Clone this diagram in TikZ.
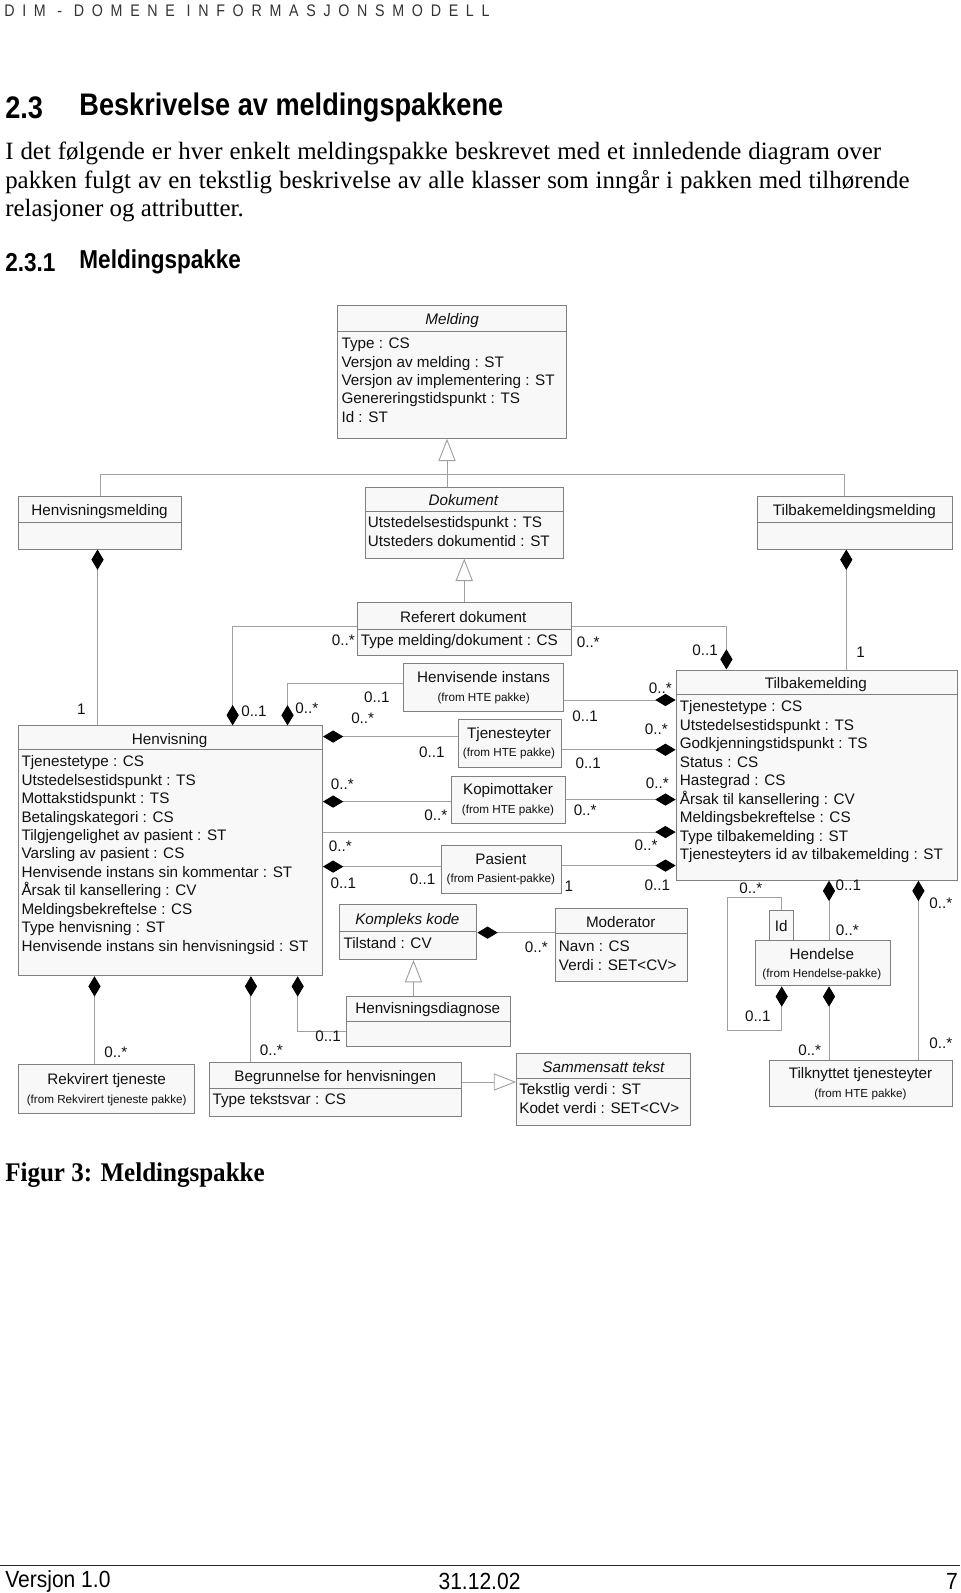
\documentclass[tikz,border=0pt]{standalone}
\usepackage{fontspec}
\setmainfont{Liberation Sans}
\newfontfamily\serifb{Liberation Serif}
\newfontfamily\serifc[FakeStretch=0.93]{Liberation Serif}
\newfontfamily\headf[FakeStretch=0.87]{Liberation Sans}
\newfontfamily\topf[FakeStretch=0.85,LetterSpace=46]{Liberation Sans}
\newfontfamily\footf[FakeStretch=0.9]{Liberation Sans}
\usetikzlibrary{arrows.meta,calc}
\definecolor{boxc}{HTML}{808080}
\definecolor{boxfill}{HTML}{F8F8F8}
\definecolor{linec}{HTML}{A0A0A0}
\definecolor{txt}{HTML}{111111}
\newcommand\dfont{\fontsize{15}{18}\selectfont}
\newcommand\sfont{\fontsize{11.5}{13}\selectfont}
\newcommand\cls[5]{\node[cbox, minimum width=#4pt, minimum height=#5pt] (#1) at (#2,#3) {};}
\newcommand\csep[2]{\draw[sepline] ([yshift=-#2pt]#1.north west) -- ([yshift=-#2pt]#1.north east);}
\begin{document}
\begin{tikzpicture}[x=1pt,y=-1pt,
  cbox/.style={draw=boxc, fill=boxfill, line width=0.9pt, inner sep=0pt, anchor=north west},
  sepline/.style={draw=boxc, line width=0.9pt},
  conn/.style={draw=linec, line width=0.9pt},
  compE/.style={conn, -{Diamond[length=20pt,width=12pt,color=black]}},
  compS/.style={conn, {Diamond[length=20pt,width=12pt,color=black]}-},
  gen/.style={conn, -{Triangle[length=22pt,width=17pt,fill=white]}},
  attr/.style={font=\dfont, text=txt, anchor=west, inner sep=0pt, text height=14pt, text depth=3pt},
  ttl/.style={font=\dfont, text=txt, inner sep=0pt, text height=14pt, text depth=3pt},
  ittl/.style={ttl, font=\dfont\itshape},
  sml/.style={font=\sfont, text=txt, inner sep=0pt, text height=11pt, text depth=1.5pt},
  mult/.style={font=\dfont, text=txt, inner sep=0pt, text height=14pt, text depth=3pt},
  page/.style={inner sep=0pt, anchor=west, text=black}
]
\fill[white] (0,0) rectangle (945,1568);
\path[use as bounding box] (0,0) rectangle (945,1568);

% ---------- page text ----------
\node[page, font=\topf\fontsize{16.5}{18}\selectfont, text=black!80] (hdr) at (4,11) {DIM - DOMENE INFORMASJONSMODELL};
\node[page, font=\headf\bfseries\fontsize{30.7}{34}\selectfont] (h23) at (5,106) {2.3};
\node[page, font=\headf\bfseries\fontsize{30.7}{34}\selectfont] (h23t) at (78,106) {Beskrivelse av meldingspakkene};
\node[page, font=\serifb\fontsize{24.5}{28}\selectfont] (b1) at (5,151) {\makebox[862pt][s]{I det følgende er hver enkelt meldingspakke beskrevet med et innledende diagram over}};
\node[page, font=\serifb\fontsize{24.5}{28}\selectfont] (b2) at (5,179) {\makebox[890pt][s]{pakken fulgt av en tekstlig beskrivelse av alle klasser som inngår i pakken med tilhørende}};
\node[page, font=\serifb\fontsize{24.5}{28}\selectfont] (b3) at (5,207) {relasjoner og attributter.};
\node[page, font=\headf\bfseries\fontsize{25.5}{28}\selectfont] (h231) at (5,258) {2.3.1};
\node[page, font=\headf\bfseries\fontsize{25.5}{28}\selectfont] (h231t) at (78,258) {Meldingspakke};
\node[page, font=\serifc\bfseries\fontsize{26.5}{30}\selectfont] (fig) at (5,1157) {Figur 3: Meldingspakke};
\coordinate (fl) at (0,1541);
\coordinate (fr) at (945,1541);
\draw[line width=1.3pt, black!85] (fl) -- (fr);
\node[page, font=\footf\fontsize{23}{26}\selectfont] (v) at (5,1557) {Versjon 1.0};
\node[inner sep=0pt, font=\footf\fontsize{23}{26}\selectfont] (d) at (472,1557) {31.12.02};
\node[inner sep=0pt, anchor=east, font=\footf\fontsize{23}{26}\selectfont] (pg) at (943,1557) {7};

% ---------- classes ----------
\cls{meld}{332}{300}{225}{131} \csep{meld}{26}
\node[ittl] at (445,314) {Melding};
\foreach \t [count=\i from 0] in {Type : CS, Versjon av melding : ST, Versjon av implementering : ST, Genereringstidspunkt : TS, Id : ST}
  \node[attr] at (336,338+18*\i) {\t};

\cls{hmeld}{18}{488}{160}{52} \csep{hmeld}{26}
\node[ttl] at (98,502) {Henvisningsmelding};

\cls{dok}{359}{479}{195}{70} \csep{dok}{24}
\node[ittl] at (456,492) {Dokument};
\node[attr] at (362,514) {Utstedelsestidspunkt : TS};
\node[attr] at (362,532) {Utsteders dokumentid : ST};

\cls{tmeld}{745}{488}{192}{52} \csep{tmeld}{26}
\node[ttl] at (841,502) {Tilbakemeldingsmelding};

\cls{refdok}{351}{593}{211}{52} \csep{refdok}{27}
\node[ttl] at (456,607) {Referert dokument};
\node[attr] at (355,630) {Type melding/dokument : CS};

\cls{hinst}{397}{653}{157}{47}
\node[ttl] at (476,666) {Henvisende instans};
\node[sml] at (476,686) {(from HTE pakke)};

\cls{tjy}{451}{708}{101}{47}
\node[ttl] at (501,721) {Tjenesteyter};
\node[sml] at (501,740) {(from HTE pakke)};

\cls{kopi}{444}{764}{112}{46}
\node[ttl] at (500,777) {Kopimottaker};
\node[sml] at (500,796) {(from HTE pakke)};

\cls{pas}{434}{832}{118}{47}
\node[ttl] at (493,845) {Pasient};
\node[sml] at (493,864) {(from Pasient-pakke)};

\cls{henv}{18}{714}{299}{246} \csep{henv}{24}
\node[ttl] at (167,727) {Henvisning};
\foreach \t [count=\i from 0] in {Tjenestetype : CS, Utstedelsestidspunkt : TS, Mottakstidspunkt : TS, Betalingskategori : CS, Tilgjengelighet av pasient : ST, Varsling av pasient : CS, Henvisende instans sin kommentar : ST, Årsak til kansellering : CV, Meldingsbekreftelse : CS, Type henvisning : ST, Henvisende instans sin henvisningsid : ST}
  \node[attr] at (21,749+18.2*\i) {\t};

\cls{tilb}{665}{659}{277}{207} \csep{tilb}{25}
\node[ttl] at (803,672) {Tilbakemelding};
\foreach \t [count=\i from 0] in {Tjenestetype : CS, Utstedelsestidspunkt : TS, Godkjenningstidspunkt : TS, Status : CS, Hastegrad : CS, Årsak til kansellering : CV, Meldingsbekreftelse : CS, Type tilbakemelding : ST, Tjenesteyters id av tilbakemelding : ST}
  \node[attr] at (669,695+18.2*\i) {\t};

\cls{kk}{334}{890}{135}{54} \csep{kk}{27}
\node[ittl] at (401,904) {Kompleks kode};
\node[attr] at (338,928) {Tilstand : CV};

\cls{mod}{546}{894}{130}{72} \csep{mod}{25}
\node[ttl] at (611,907) {Moderator};
\node[attr] at (550,931) {Navn : CS};
\node[attr] at (550,950) {Verdi : SET<CV>};

\cls{hdiag}{341}{980}{161}{50} \csep{hdiag}{25}
\node[ttl] at (421,992) {Henvisningsdiagnose};

\cls{begr}{206}{1045}{248}{53} \csep{begr}{26}
\node[ttl] at (330,1059) {Begrunnelse for henvisningen};
\node[attr] at (209,1082) {Type tekstsvar : CS};

\cls{rekv}{18}{1047}{173}{49}
\node[ttl] at (105,1062) {Rekvirert tjeneste};
\node[sml] at (105,1081) {(from Rekvirert tjeneste pakke)};

\cls{samm}{508}{1036}{171}{71} \csep{samm}{26}
\node[ittl] at (594,1050) {Sammensatt tekst};
\node[attr] at (511,1072) {Tekstlig verdi : ST};
\node[attr] at (511,1091) {Kodet verdi : SET<CV>};

\cls{hend}{743}{925}{133}{45}
\node[ttl] at (809,939) {Hendelse};
\node[sml] at (809,957) {(from Hendelse-pakke)};

\cls{idq}{757}{896}{24}{29}
\node[ttl] at (769,911) {Id};

\cls{tilk}{757}{1043}{180}{46}
\node[ttl] at (847,1056) {Tilknyttet tjenesteyter};
\node[sml] at (847,1076) {(from HTE pakke)};

% ---------- connectors ----------
\coordinate (gbar) at (440,467);
\coordinate (gbarR) at (831,467);
\draw[conn] (hmeld.north) |- (gbar);
\draw[conn] (tmeld.north -| gbarR) -- (gbarR) -- (gbar);
\draw[conn] (dok.north -| gbar) -- (gbar);
\draw[gen] (gbar) -- (meld.south -| gbar);

\draw[gen] (refdok.north) -- (dok.south -| refdok.north);

\draw[compS] (hmeld.south -| 96,0) -- (henv.north -| 96,0);
\draw[compS] (tmeld.south -| 833,0) -- (tilb.north -| 833,0);

\draw[compE] (refdok.west |- 0,617) -| (henv.north -| 229,0);
\draw[compE] (refdok.east |- 0,617) -| (tilb.north -| 715,0);
\draw[compE] (hinst.west |- 0,673) -| (henv.north -| 283,0);
\draw[compE] (hinst.east |- 0,689) -- (tilb.west |- 0,689);
\draw[compE] (tjy.west |- 0,725) -- (henv.east |- 0,725);
\draw[compE] (tjy.east |- 0,738) -- (tilb.west |- 0,738);
\draw[compE] (kopi.west |- 0,789) -- (henv.east |- 0,789);
\draw[compE] (kopi.east |- 0,787) -- (tilb.west |- 0,787);
\draw[compE] (henv.east |- 0,819) -- (tilb.west |- 0,819);
\draw[compE] (pas.west |- 0,853) -- (henv.east |- 0,853);
\draw[compE] (pas.east |- 0,852) -- (tilb.west |- 0,852);

\draw[compS] (kk.east |- 0,918) -- (mod.west |- 0,918);
\draw[gen] (hdiag.north -| 407,0) -- (kk.south -| 407,0);
\draw[compS] (henv.south -| 293,0) |- (hdiag.west |- 0,1015);
\draw[compS] (henv.south -| 93,0) -- (rekv.north -| 93,0);
\draw[compS] (henv.south -| 247,0) -- (begr.north -| 247,0);
\draw[gen] (begr.east |- 0,1065) -- (samm.west |- 0,1065);

\draw[compS] (tilb.south -| 816,0) -- (hend.north -| 816,0);
\draw[compS] (tilb.south -| 904,0) -- (tilk.north -| 904,0);
\draw[compS] (hend.south -| 816,0) -- (tilk.north -| 816,0);
\coordinate (selfB) at (716,1014);
\coordinate (selfT) at (716,883);
\draw[compS] (hend.south -| idq.north) |- (selfB) -- (selfT) -| (idq.north);

% ---------- multiplicities ----------
\node[mult] at (80,698) {1};
\node[mult] at (250,700) {0..1};
\node[mult] at (302,697) {0..*};
\node[mult] at (338,630) {0..*};
\node[mult] at (579,632) {0..*};
\node[mult] at (694,640) {0..1};
\node[mult] at (847,642) {1};
\node[mult] at (371,686) {0..1};
\node[mult] at (357,707) {0..*};
\node[mult] at (425,740) {0..1};
\node[mult] at (337,772) {0..*};
\node[mult] at (429,802) {0..*};
\node[mult] at (335,833) {0..*};
\node[mult] at (338,869) {0..1};
\node[mult] at (416,865) {0..1};
\node[mult] at (576,705) {0..1};
\node[mult] at (650,677) {0..*};
\node[mult] at (646,717) {0..*};
\node[mult] at (579,751) {0..1};
\node[mult] at (647,771) {0..*};
\node[mult] at (576,797) {0..*};
\node[mult] at (636,832) {0..*};
\node[mult] at (560,872) {1};
\node[mult] at (647,871) {0..1};
\node[mult] at (528,932) {0..*};
\node[mult] at (739,874) {0..*};
\node[mult] at (835,871) {0..1};
\node[mult] at (834,915) {0..*};
\node[mult] at (926,889) {0..*};
\node[mult] at (746,1000) {0..1};
\node[mult] at (797,1033) {0..*};
\node[mult] at (926,1027) {0..*};
\node[mult] at (114,1035) {0..*};
\node[mult] at (267,1033) {0..*};
\node[mult] at (323,1020) {0..1};
\end{tikzpicture}
\end{document}
